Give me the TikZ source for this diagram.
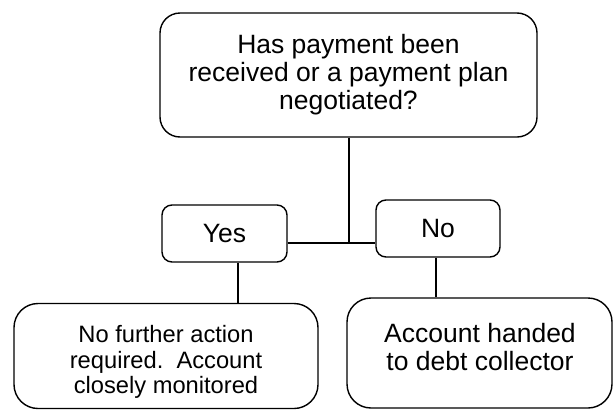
\documentclass[tikz,border=0pt]{standalone}
\usepackage{fontspec}
\setmainfont{Liberation Sans}
\usetikzlibrary{positioning}

\begin{document}
\begin{tikzpicture}[x=1pt, y=-1pt, line width=1.4pt,
    box/.style={draw, rounded corners=#1, align=center, inner sep=0pt,
        font=\fontsize{26.5}{28}\selectfont},
    box/.default=12pt,
    boxtext/.style={align=center, inner sep=0pt, font=\fontsize{26.5}{28}\selectfont}]

    \useasboundingbox (0,0) rectangle (616,410);

    % Pregunta y respuestas
    \node[box=20pt, minimum width=377pt, minimum height=124pt] (question) at (348.5,75)
        {Has payment been\\received or a payment plan\\negotiated?};
    \node[box=10pt, minimum width=125pt, minimum height=57pt] (yes) at (224.5,233.5) {Yes};
    \node[box=10pt, minimum width=124pt, minimum height=57pt] (no) at (438,228.5) {No};

    % Resultados
    \node[box=24pt, minimum width=304pt, minimum height=105pt] (action) at (166,356) {};
    \node[boxtext, font=\fontsize{23.7}{25.5}\selectfont] (action text) at (166,362)
        {No further action\\required.\ \ Account\\closely monitored};
    \node[box=24pt, minimum width=265pt, minimum height=110pt] (handed) at (479.5,353) {};
    \node[boxtext] (handed text) at (480,347) {Account handed\\to debt collector};

    % Conexiones
    \coordinate (hub) at (349,243);
    \coordinate (yesdrop) at (238,0);
    \coordinate (nodrop) at (436,0);
    \draw (question.south -| hub) -- (hub);
    \draw (yes.east |- hub) -- (no.west |- hub);
    \draw (yes.south -| yesdrop) -- (action.north -| yesdrop);
    \draw (no.south -| nodrop) -- (handed.north -| nodrop);

\end{tikzpicture}
\end{document}
